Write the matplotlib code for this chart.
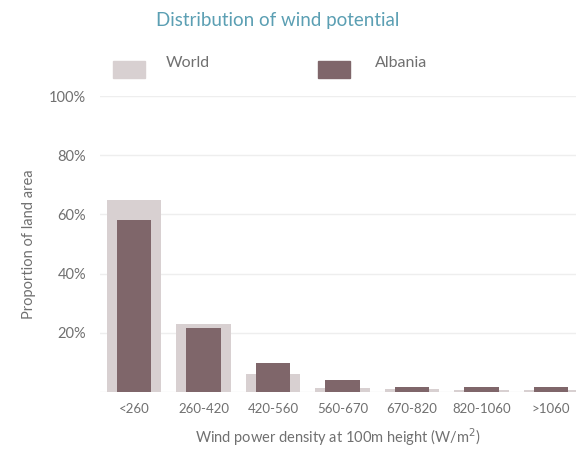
import matplotlib.pyplot as plt
import matplotlib.patches as mpatches
from matplotlib.ticker import FuncFormatter

plt.rcParams['font.family'] = ['Lato', 'DejaVu Sans']

categories = ['<260', '260-420', '420-560', '560-670', '670-820', '820-1060', '>1060']
world = [65.0, 23.0, 6.0, 1.3, 0.9, 0.6, 0.7]
albania = [58.0, 21.6, 9.8, 4.0, 1.8, 1.8, 1.8]

world_color = '#d8d0d1'
albania_color = '#7f666a'
text_color = '#707070'

fig = plt.figure(figsize=(5.76, 4.55), dpi=100)
ax = fig.add_axes([0.1736, 0.1385, 0.8264, 0.6505])

x = list(range(len(categories)))
ax.bar(x, world, width=0.78, color=world_color, zorder=2)
ax.bar(x, albania, width=0.5, color=albania_color, zorder=3)

ax.set_xlim(-0.49, 6.36)
ax.set_ylim(0, 100)
ax.set_yticks([20, 40, 60, 80, 100])
ax.yaxis.set_major_formatter(FuncFormatter(lambda v, p: '{:d}%'.format(int(v))))
ax.set_xticks(x)
ax.set_xticklabels(categories)
ax.grid(axis='y', color='#eeeeee', linewidth=1, zorder=0)
ax.axhline(0, color='#eeeeee', linewidth=1, zorder=1)
for s in ax.spines.values():
    s.set_visible(False)
ax.tick_params(length=0, colors=text_color, labelsize=9.5)
ax.tick_params(axis='y', pad=10, labelsize=10.5)
ax.tick_params(axis='x', pad=8)

ax.set_xlabel('Wind power density at 100m height (W/m$^2$)', color=text_color,
              fontsize=10.5, labelpad=8)
ax.set_ylabel('Proportion of land area', color=text_color, fontsize=10.5, labelpad=6)
ax.yaxis.set_label_coords(-0.135, 0.5)

fig.text(0.482, 0.955, 'Distribution of wind potential', ha='center', va='center',
         color='#5b9fb3', fontsize=13.5)

# legend drawn by hand: swatch + label
handles = [(world_color, 'World', 0.196, 0.287), (albania_color, 'Albania', 0.552, 0.651)]
for col, lab, sx, tx in handles:
    fig.patches.append(mpatches.Rectangle((sx, 0.829), 0.055, 0.036, color=col,
                                          transform=fig.transFigure, figure=fig))
    fig.text(tx, 0.862, lab, ha='left', va='center', color=text_color, fontsize=11.5)

fig.savefig('out.png', dpi=100)
